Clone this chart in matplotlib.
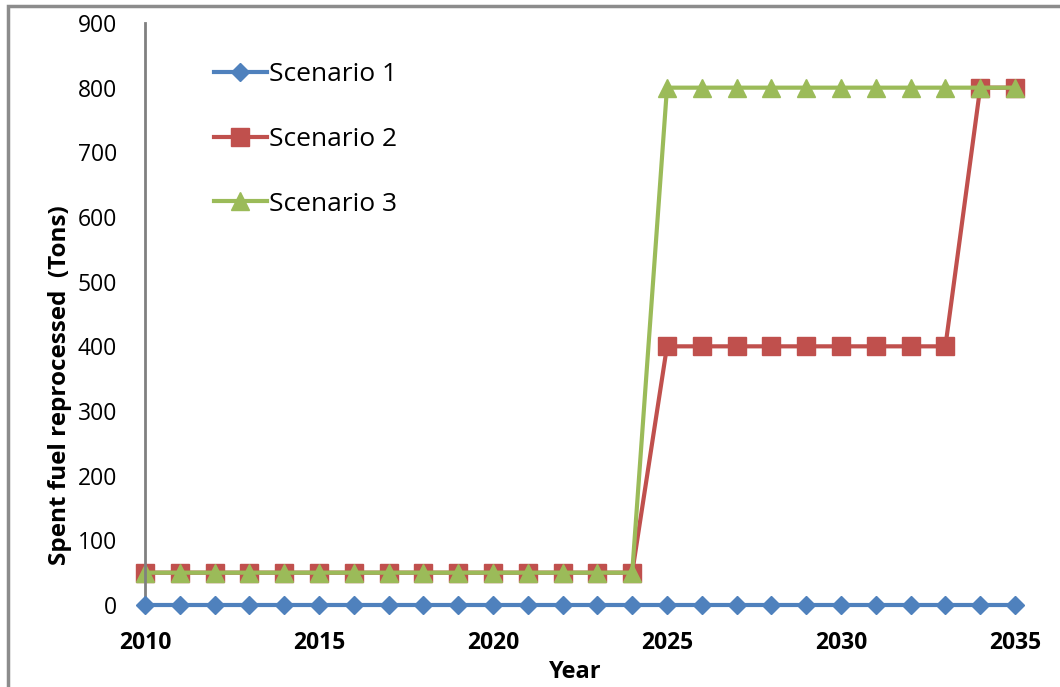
import matplotlib.pyplot as plt
from matplotlib.patches import Rectangle

# Data
years = list(range(2010, 2036))
scenario_1 = [0] * 26
scenario_2 = [50] * 15 + [400] * 9 + [800] * 2
scenario_3 = [50] * 15 + [800] * 11

labels = ['Scenario 1', 'Scenario 2', 'Scenario 3']
colors = ['#4F81BD', '#C0504D', '#9BBB59']

plt.rcParams['font.family'] = ['Open Sans', 'DejaVu Sans']

fig = plt.figure(figsize=(10.6, 6.87), dpi=100)
ax = fig.add_axes([145 / 1060, 1 - 605 / 687, 870 / 1060, 582 / 687])

ax.plot(years, scenario_1, color=colors[0], lw=3, marker='D', ms=9,
        label=labels[0], clip_on=False, zorder=3)
ax.plot(years, scenario_2, color=colors[1], lw=3, marker='s', ms=13,
        label=labels[1], clip_on=False, zorder=2)
ax.plot(years, scenario_3, color=colors[2], lw=3, marker='^', ms=13,
        label=labels[2], clip_on=False, zorder=2)

ax.set_xlim(2010, 2035)
ax.set_ylim(0, 900)
ax.set_xticks(range(2010, 2036, 5))
ax.set_yticks(range(0, 901, 100))
ax.tick_params(length=0, labelsize=16.5)
ax.tick_params(axis='y', pad=20)
ax.tick_params(axis='x', pad=19)
for t in ax.get_xticklabels():
    t.set_fontweight('bold')

for s in ['top', 'right', 'bottom']:
    ax.spines[s].set_visible(False)
ax.spines['left'].set_color('#808080')
ax.spines['left'].set_linewidth(2)

leg = ax.legend(loc='upper left', bbox_to_anchor=(0.052, 0.973), frameon=False,
                fontsize=19, handlelength=2.0, handletextpad=0.1,
                labelspacing=1.5)

fig.text(575 / 1060, 1 - 672 / 687, 'Year', ha='center', va='center',
         fontsize=17, fontweight='bold')
fig.text(60 / 1060, 1 - 385 / 687, 'Spent fuel reprocessed  (Tons)',
         rotation=90, ha='center', va='center', fontsize=17.5, fontweight='bold')

# outer chart frame
fig.patches.append(Rectangle((8 / 1060, -0.05), 1.1, 1 - 6 / 687 + 0.05,
                             transform=fig.transFigure, fill=False,
                             edgecolor='#8C8C8C', lw=2.5))

fig.savefig('out.png', dpi=100)
